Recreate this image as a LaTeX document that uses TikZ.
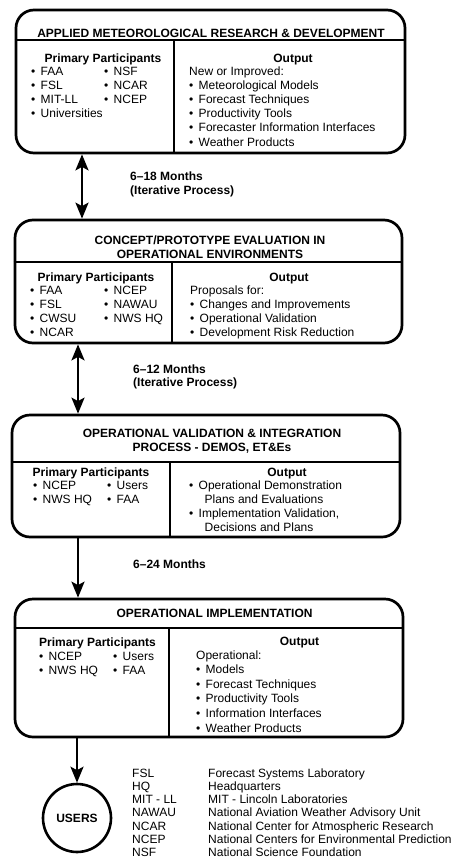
\documentclass[tikz,border=0pt]{standalone}
\usepackage{fontspec}
\setmainfont{Liberation Sans}
\usetikzlibrary{arrows.meta}

\newcommand{\bu}{\makebox[9.5pt][l]{\textbullet}}

\begin{document}
\begin{tikzpicture}[x=1pt,y=-1pt,
		font=\fontsize{12}{14.2}\selectfont,
		>={Stealth[length=16pt,width=13pt,inset=3.5pt]},
		stage/.style={draw,line width=2.7pt,rounded corners=18pt,inner sep=0pt},
		rule/.style={line width=1.1pt},
		hd/.style={anchor=base,inner sep=0pt,font=\fontsize{12}{14.2}\selectfont\bfseries},
		txt/.style={anchor=base west,inner sep=0pt},
		flow/.style={line width=2.6pt}]
		\useasboundingbox (0,0) rectangle (457,860);
		\node[stage,minimum width=389pt,minimum height=143pt] (rd) at (210.5,81.5) {};
		\node[stage,minimum width=387pt,minimum height=123pt] (cp) at (208.5,281.5) {};
		\node[stage,minimum width=388pt,minimum height=122pt] (ov) at (206,476) {};
		\node[stage,minimum width=388pt,minimum height=138pt] (oi) at (209,668) {};
		\node[draw,circle,line width=2.6pt,minimum size=68pt,inner sep=0pt,font=\fontsize{12}{14}\selectfont\bfseries] (users) at (77,818) {USERS};
		
		\draw[rule] (rd.west |- 0,40) -- (rd.east |- 0,40);
		\draw[rule] (174,40) -- (174,153);
		\draw[rule] (cp.west |- 0,262) -- (cp.east |- 0,262);
		\draw[rule] (172,262) -- (172,343);
		\draw[rule] (ov.west |- 0,462) -- (ov.east |- 0,462);
		\draw[rule] (170,462) -- (170,537);
		\draw[rule] (oi.west |- 0,628) -- (oi.east |- 0,628);
		\draw[rule] (169,628) -- (169,737);
		
		\node[hd] (rdTitle) at (211,37) {APPLIED METEOROLOGICAL RESEARCH \& DEVELOPMENT};
		\node[hd] (rdPart) at (103,62) {Primary Participants};
		\node[txt] (rdWho) at (31,75) {\begin{tabular}[t]{@{}p{73pt}@{}l@{}}
				\bu FAA & \bu NSF\\
				\bu FSL & \bu NCAR\\
				\bu MIT-LL & \bu NCEP\\
				\bu Universities &
			\end{tabular}};
		\node[hd] (rdOut) at (293,62) {Output};
		\node[txt] (rdWhat) at (189,75) {\begin{tabular}[t]{@{}l@{}}
				New or Improved:\\
				\bu Meteorological Models\\
				\bu Forecast Techniques\\
				\bu Productivity Tools\\
				\bu Forecaster Information Interfaces\\
				\bu Weather Products
			\end{tabular}};
		
		\node[hd] (cpTitle) at (210,244) {\begin{tabular}[t]{@{}c@{}}
				CONCEPT/PROTOTYPE EVALUATION IN\\
				OPERATIONAL ENVIRONMENTS
			\end{tabular}};
		\node[hd] (cpPart) at (96,281) {Primary Participants};
		\node[txt] (cpWho) at (30,294) {\begin{tabular}[t]{@{}p{74pt}@{}l@{}}
				\bu FAA & \bu NCEP\\
				\bu FSL & \bu NAWAU\\
				\bu CWSU & \bu NWS HQ\\
				\bu NCAR &
			\end{tabular}};
		\node[hd] (cpOut) at (289,281) {Output};
		\node[txt] (cpWhat) at (190,294) {\begin{tabular}[t]{@{}l@{}}
				Proposals for:\\
				\bu Changes and Improvements\\
				\bu Operational Validation\\
				\bu Development Risk Reduction
			\end{tabular}};
		
		\node[hd] (ovTitle) at (212,437) {\begin{tabular}[t]{@{}c@{}}
				OPERATIONAL VALIDATION \& INTEGRATION\\
				PROCESS - DEMOS, ET\&Es
			\end{tabular}};
		\node[hd] (ovPart) at (91,476) {Primary Participants};
		\node[txt] (ovWho) at (33,489) {\begin{tabular}[t]{@{}p{74pt}@{}l@{}}
				\bu NCEP & \bu Users\\
				\bu NWS HQ & \bu FAA
			\end{tabular}};
		\node[hd] (ovOut) at (287,476) {Output};
		\node[txt] (ovWhat) at (189,489) {\begin{tabular}[t]{@{}l@{}}
				\bu Operational Demonstration\\
				\hspace*{15.5pt}Plans and Evaluations\\
				\bu Implementation Validation,\\
				\hspace*{15.5pt}Decisions and Plans
			\end{tabular}};
		
		\node[hd] (oiTitle) at (214.5,617) {OPERATIONAL IMPLEMENTATION};
		\node[hd] (oiPart) at (97.5,646) {Primary Participants};
		\node[txt] (oiWho) at (39,660) {\begin{tabular}[t]{@{}p{74pt}@{}l@{}}
				\bu NCEP & \bu Users\\
				\bu NWS HQ & \bu FAA
			\end{tabular}};
		\node[hd] (oiOut) at (299.5,645) {Output};
		\node[txt,font=\fontsize{12}{14.6}\selectfont] (oiWhat) at (196,659) {\begin{tabular}[t]{@{}l@{}}
				Operational:\\
				\bu Models\\
				\bu Forecast Techniques\\
				\bu Productivity Tools\\
				\bu Information Interfaces\\
				\bu Weather Products
			\end{tabular}};
		
		\draw[flow,<->] ([xshift=5pt]rd.south -| users.center) -- ([xshift=5pt]cp.north -| users.center);
		\draw[flow,<->] ([xshift=1pt]cp.south -| users.center) -- ([xshift=1pt]ov.north -| users.center);
		\draw[flow,->] ([xshift=1pt]ov.south -| users.center) -- ([xshift=1pt]oi.north -| users.center);
		\draw[flow,->] (oi.south -| users.center) -- (users);
		
		\node[txt,font=\fontsize{12}{14.2}\selectfont\bfseries] (t1) at (130,180) {\begin{tabular}[t]{@{}l@{}}
				6--18 Months\\
				(Iterative Process)
			\end{tabular}};
		\node[txt,font=\fontsize{12}{13.5}\selectfont\bfseries] (t2) at (133,373) {\begin{tabular}[t]{@{}l@{}}
				6--12 Months\\
				(Iterative Process)
			\end{tabular}};
		\node[txt,font=\fontsize{12}{14}\selectfont\bfseries] (t3) at (133,568) {6--24 Months};
		
		\node[txt,font=\fontsize{12}{13.3}\selectfont] (abbr) at (132,777) {\begin{tabular}[t]{@{}p{76pt}@{}l@{}}
				FSL & Forecast Systems Laboratory\\
				HQ & Headquarters\\
				MIT - LL & MIT - Lincoln Laboratories\\
				NAWAU & National Aviation Weather Advisory Unit\\
				NCAR & National Center for Atmospheric Research\\
				NCEP & National Centers for Environmental Prediction\\
				NSF & National Science Foundation
			\end{tabular}};
\end{tikzpicture}
\end{document}
